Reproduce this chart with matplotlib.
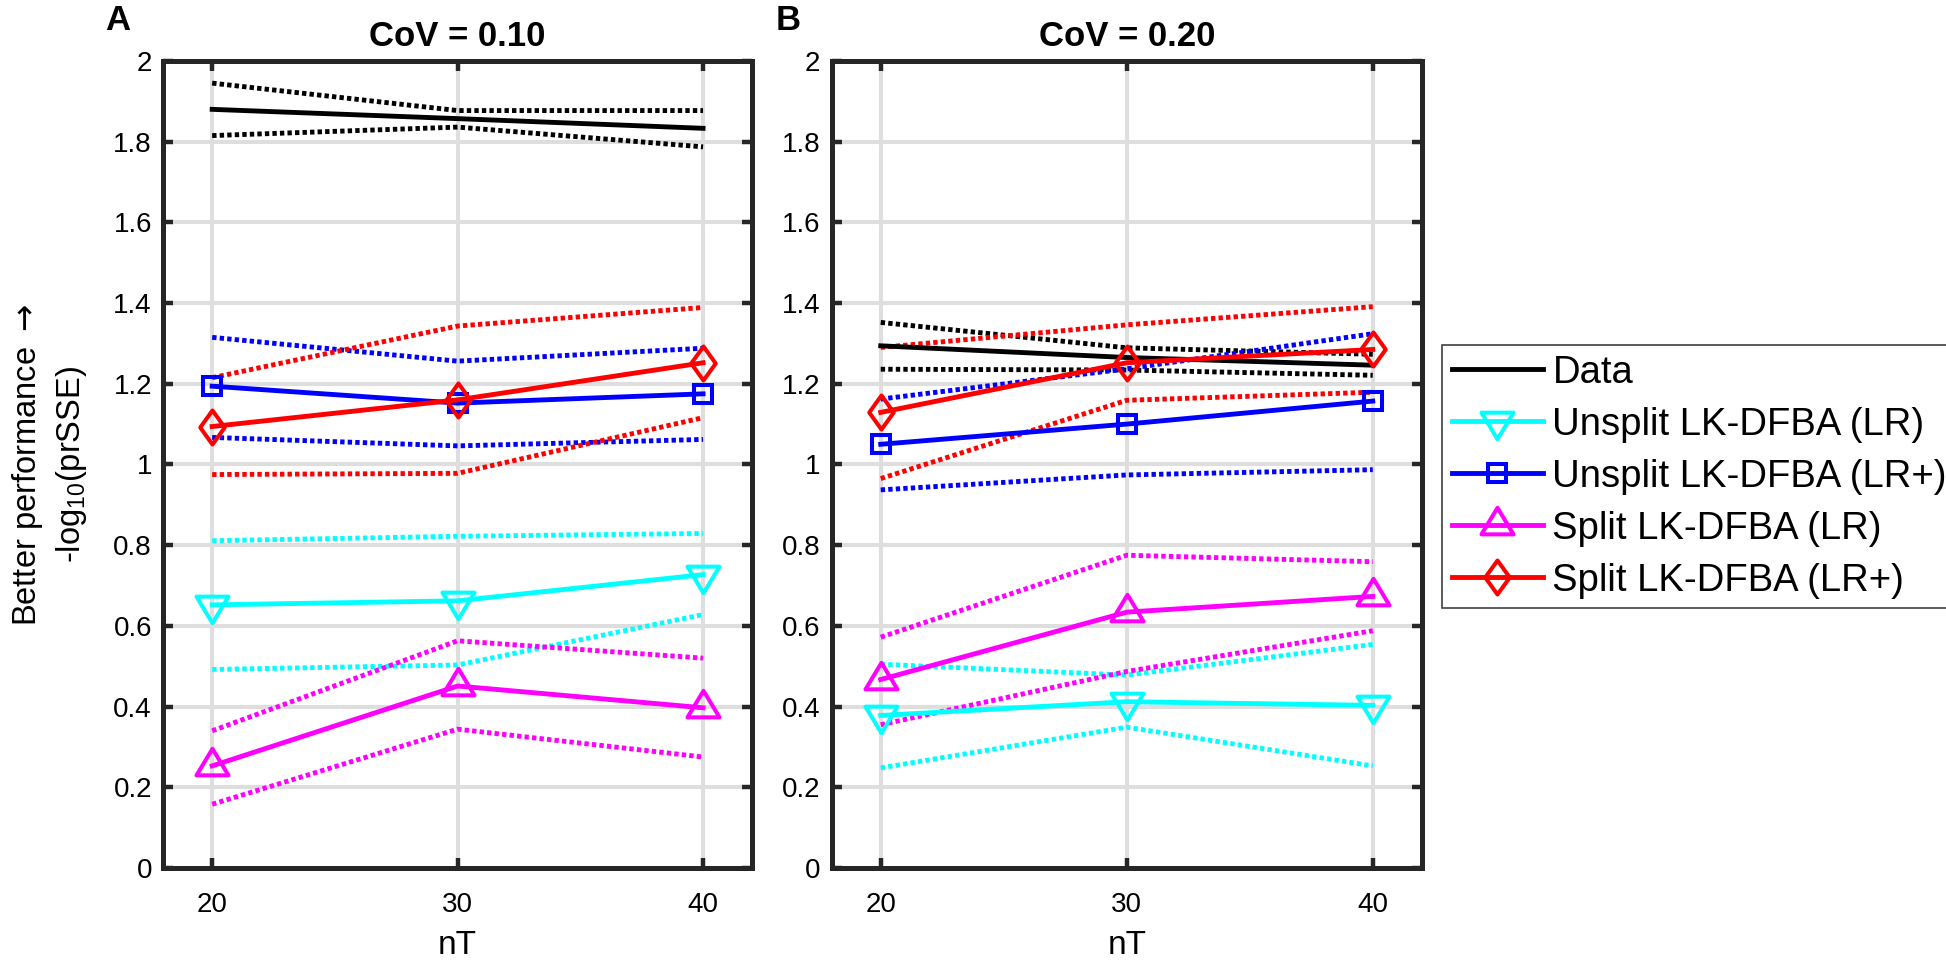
import matplotlib
matplotlib.use('Agg')
import matplotlib.pyplot as plt
from matplotlib.path import Path
from matplotlib.markers import MarkerStyle

plt.rcParams['font.family'] = ['Liberation Sans', 'DejaVu Sans']
plt.rcParams['mathtext.fontset'] = 'dejavusans'

nT = [20, 30, 40]

# CoV = 0.10 (panel A): mean, upper and lower bounds
data_a = [1.880, 1.857, 1.833]
data_a_hi = [1.945, 1.877, 1.877]
data_a_lo = [1.815, 1.836, 1.787]
unsplit_lr_a = [0.652, 0.662, 0.727]
unsplit_lr_a_hi = [0.811, 0.822, 0.829]
unsplit_lr_a_lo = [0.492, 0.503, 0.628]
unsplit_lrp_a = [1.194, 1.152, 1.175]
unsplit_lrp_a_hi = [1.315, 1.256, 1.288]
unsplit_lrp_a_lo = [1.067, 1.046, 1.062]
split_lr_a = [0.253, 0.451, 0.397]
split_lr_a_hi = [0.340, 0.563, 0.520]
split_lr_a_lo = [0.158, 0.344, 0.275]
split_lrp_a = [1.094, 1.160, 1.252]
split_lrp_a_hi = [1.215, 1.343, 1.389]
split_lrp_a_lo = [0.975, 0.978, 1.116]

# CoV = 0.20 (panel B)
data_b = [1.294, 1.265, 1.246]
data_b_hi = [1.352, 1.289, 1.273]
data_b_lo = [1.236, 1.234, 1.221]
unsplit_lr_b = [0.378, 0.412, 0.403]
unsplit_lr_b_hi = [0.505, 0.478, 0.554]
unsplit_lr_b_lo = [0.248, 0.349, 0.253]
unsplit_lrp_b = [1.050, 1.100, 1.157]
unsplit_lrp_b_hi = [1.162, 1.237, 1.324]
unsplit_lrp_b_lo = [0.937, 0.974, 0.987]
split_lr_b = [0.467, 0.634, 0.673]
split_lr_b_hi = [0.572, 0.775, 0.759]
split_lr_b_lo = [0.355, 0.487, 0.588]
split_lrp_b = [1.129, 1.252, 1.285]
split_lrp_b_hi = [1.290, 1.346, 1.391]
split_lrp_b_lo = [0.965, 1.159, 1.179]

labels = ['Data', 'Unsplit LK-DFBA (LR)', 'Unsplit LK-DFBA (LR+)',
          'Split LK-DFBA (LR)', 'Split LK-DFBA (LR+)']
colors = ['black', '#00FFFF', '#0000FF', '#FF00FF', '#FF0000']
titles = ['CoV = 0.10', 'CoV = 0.20']
panel_letters = ['A', 'B']

# MATLAB-like markers
tri_down = Path([(-1, 0.553), (1, 0.553), (0, -1.107), (-1, 0.553)],
                [Path.MOVETO, Path.LINETO, Path.LINETO, Path.CLOSEPOLY])
tri_up = Path([(-1, -0.553), (1, -0.553), (0, 1.107), (-1, -0.553)],
              [Path.MOVETO, Path.LINETO, Path.LINETO, Path.CLOSEPOLY])
diamond = Path([(0, 1), (0.72, 0), (0, -1), (-0.72, 0), (0, 1)],
               [Path.MOVETO, Path.LINETO, Path.LINETO, Path.LINETO,
                Path.CLOSEPOLY])
markers = [None,
           MarkerStyle(tri_down, joinstyle='miter'),
           MarkerStyle('s', joinstyle='miter'),
           MarkerStyle(tri_up, joinstyle='miter'),
           MarkerStyle(diamond, joinstyle='miter')]
msizes = [0, 25.5, 12.5, 25.5, 24.5]

panels = [
    [(data_a, data_a_hi, data_a_lo),
     (unsplit_lr_a, unsplit_lr_a_hi, unsplit_lr_a_lo),
     (unsplit_lrp_a, unsplit_lrp_a_hi, unsplit_lrp_a_lo),
     (split_lr_a, split_lr_a_hi, split_lr_a_lo),
     (split_lrp_a, split_lrp_a_hi, split_lrp_a_lo)],
    [(data_b, data_b_hi, data_b_lo),
     (unsplit_lr_b, unsplit_lr_b_hi, unsplit_lr_b_lo),
     (unsplit_lrp_b, unsplit_lrp_b_hi, unsplit_lrp_b_lo),
     (split_lr_b, split_lr_b_hi, split_lr_b_lo),
     (split_lrp_b, split_lrp_b_hi, split_lrp_b_lo)],
]

fig = plt.figure(figsize=(19.46, 9.64), dpi=100)
ax_pos = [[0.0838, 0.0996, 0.3027, 0.8372],
          [0.4273, 0.0996, 0.3034, 0.8372]]
letter_x = [105 / 1946, 776 / 1946]

lw = 3.5
dots = (0, (0.9, 0.65))
axis_col = '#262626'
handles = []

for p in range(2):
    ax = fig.add_axes(ax_pos[p])
    for i, (mean, hi, lo) in enumerate(panels[p]):
        ax.plot(nT, hi, color=colors[i], lw=lw, linestyle=dots,
                dash_capstyle='butt', zorder=2)
        ax.plot(nT, lo, color=colors[i], lw=lw, linestyle=dots,
                dash_capstyle='butt', zorder=2)
        if markers[i] is None:
            h, = ax.plot(nT, mean, color=colors[i], lw=lw, zorder=3 + i)
        else:
            h, = ax.plot(nT, mean, color=colors[i], lw=lw, marker=markers[i],
                         markersize=msizes[i], markerfacecolor='none',
                         markeredgewidth=2.9, zorder=3 + i)
        if p == 0:
            handles.append(h)

    ax.set_xlim(18, 42)
    ax.set_ylim(0, 2)
    ax.set_xticks(nT)
    yt = [0, 0.2, 0.4, 0.6, 0.8, 1, 1.2, 1.4, 1.6, 1.8, 2]
    ax.set_yticks(yt)
    ax.set_yticklabels(['%g' % v for v in yt])
    ax.grid(True, color='#dedede', lw=2.9)
    ax.set_axisbelow(True)
    for s in ax.spines.values():
        s.set_linewidth(3.6)
        s.set_color(axis_col)
    ax.tick_params(direction='in', length=7, width=3.2, color=axis_col,
                   labelsize=20, top=True, right=True)
    ax.tick_params(axis='x', pad=17)
    ax.tick_params(axis='y', pad=8)
    ax.set_title(titles[p], fontsize=25, fontweight='bold', pad=11)
    ax.set_xlabel('nT', fontsize=24, va='top')
    ax.xaxis.set_label_coords(0.5, -0.077)
    if p == 0:
        ax.set_ylabel('Better performance $\\rightarrow$\n'
                      r'-$\mathregular{log_{10}}$(prSSE)',
                      fontsize=23.5, linespacing=1.35)
        ax.yaxis.set_label_coords(-0.126, 0.5)
    fig.text(letter_x[p], 1 - 30 / 964, panel_letters[p], fontsize=25,
             fontweight='bold', ha='left', va='baseline')

fig.legend(handles, labels, loc='upper left',
           bbox_to_anchor=(1442 / 1946, 1 - 345 / 964), fontsize=27.5,
           frameon=True, fancybox=False, edgecolor='#404040',
           framealpha=1, borderaxespad=0, borderpad=0.25,
           labelspacing=0.42, handlelength=2.4, handletextpad=0.24)
fig.legends[0].get_frame().set_linewidth(1.2)

fig.savefig('out.png', dpi=100)
